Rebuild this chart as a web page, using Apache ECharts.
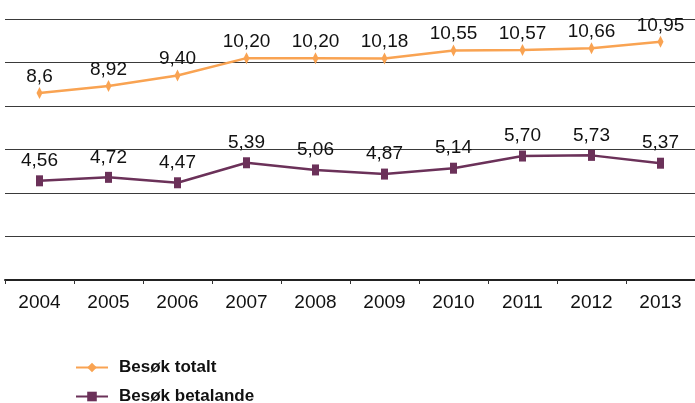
<!DOCTYPE html>
<html>
<head>
<meta charset="utf-8">
<script src="https://cdn.jsdelivr.net/npm/echarts@6/dist/echarts.min.js"></script>
<style>
html,body{margin:0;padding:0;background:#fff;}
#chart{width:695px;height:403px;}
</style>
</head>
<body>
<div id="chart"></div>
<script>
const years = ['2004','2005','2006','2007','2008','2009','2010','2011','2012','2013'];
const totalt = [8.6, 8.92, 9.40, 10.20, 10.20, 10.18, 10.55, 10.57, 10.66, 10.95];
const totaltLabels = ['8,6','8,92','9,40','10,20','10,20','10,18','10,55','10,57','10,66','10,95'];
const betalande = [4.56, 4.72, 4.47, 5.39, 5.06, 4.87, 5.14, 5.70, 5.73, 5.37];
const betalandeLabels = ['4,56','4,72','4,47','5,39','5,06','4,87','5,14','5,70','5,73','5,37'];
const seriesNames = ['Besøk totalt', 'Besøk betalande'];

const FONT = '"Liberation Sans", Arial, Helvetica, sans-serif';
const legendBase = {
  orient: 'vertical', left: 70,
  itemWidth: 32, itemHeight: 12,
  textStyle: {fontFamily: FONT, fontSize: 17, fontWeight: 'bold', color: '#111', padding: [0,0,0,6]}
};
const chart = echarts.init(document.getElementById('chart'), null, {renderer:'canvas'});
chart.setOption({
  animation: false,
  backgroundColor: '#fff',
  grid: {left: 5, right: -5, top: 19, bottom: 123},
  legend: [
    Object.assign({}, legendBase, {top: 354, data: [seriesNames[0]]}),
    Object.assign({}, legendBase, {top: 383, data: [seriesNames[1]]})
  ],
  xAxis: {
    type: 'category', data: years, boundaryGap: true,
    axisLine: {show: true, lineStyle: {color: '#222', width: 2}},
    axisTick: {show: true, length: 4, lineStyle: {color: '#333', width: 1}},
    axisLabel: {fontFamily: FONT, fontSize: 19, color: '#111', margin: 13}
  },
  yAxis: {
    type: 'value', min: 0, max: 12, interval: 2,
    axisLabel: {show: false}, axisLine: {show: false}, axisTick: {show: false},
    splitLine: {show: true, lineStyle: {color: '#3a3a3a', width: 1.2}}
  },
  series: [
    {
      name: seriesNames[0], type: 'line', data: totalt,
      symbol: 'diamond', symbolSize: [6, 12],
      lineStyle: {color: '#F9A352', width: 2.5},
      itemStyle: {color: '#F9A352'},
      label: {show: true, position: 'top', distance: 1, fontFamily: FONT, fontSize: 19, color: '#111',
        formatter: p => totaltLabels[p.dataIndex]}
    },
    {
      name: seriesNames[1], type: 'line', data: betalande,
      symbol: 'rect', symbolSize: [7, 11],
      lineStyle: {color: '#6B3159', width: 2.5},
      itemStyle: {color: '#6B3159'},
      label: {show: true, position: 'top', distance: 5, fontFamily: FONT, fontSize: 19, color: '#111',
        formatter: p => betalandeLabels[p.dataIndex]}
    }
  ]
});
</script>
</body>
</html>
